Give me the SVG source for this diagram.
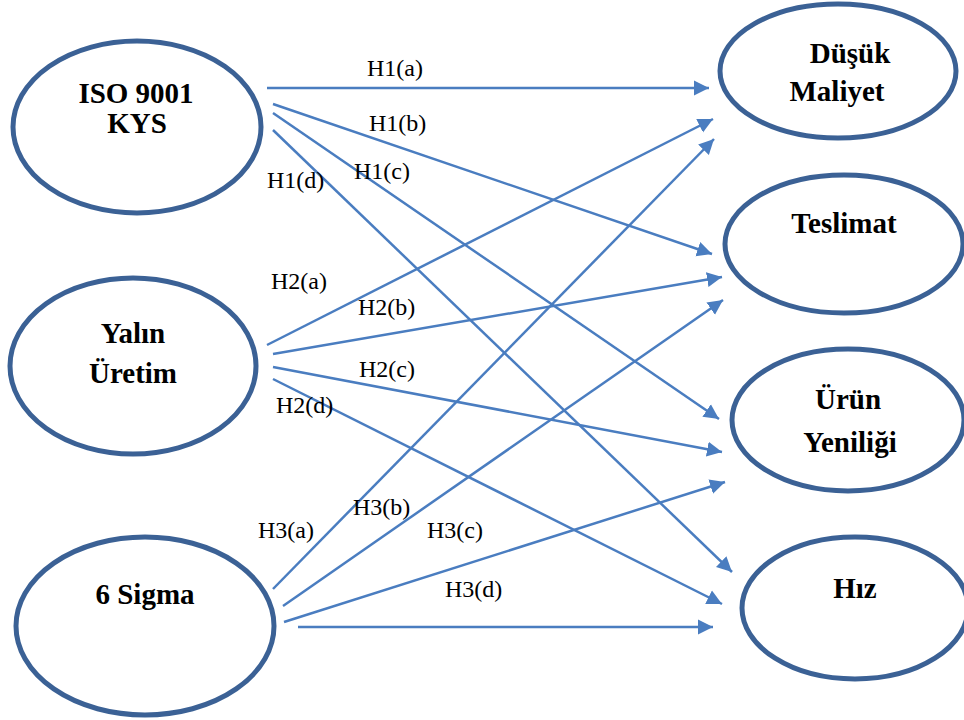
<svg xmlns="http://www.w3.org/2000/svg" width="964" height="720" viewBox="0 0 964 720">
  <style>
    .node { fill: #ffffff; stroke: #3b6195; stroke-width: 5; }
    .nlabel { font-weight: bold; font-size: 29px; fill: #000000; text-anchor: middle; }
    .edge { stroke: #4a7dc0; stroke-width: 2.5; fill: none; marker-end: url(#arrow); }
    .elabel { font-size: 24px; fill: #000000; }
  </style>
  <defs>
    <marker id="arrow" markerUnits="userSpaceOnUse" markerWidth="16" markerHeight="16" viewBox="0 0 16 16" refX="15" refY="8" orient="auto">
      <path d="M0,0.5 L15,8 L0,15.5 Z" fill="#4a7dc0"/>
    </marker>
  </defs>
  <rect width="964" height="720" fill="#ffffff"/>

  <g font-family="'Liberation Serif', 'Times New Roman', serif">
    <!-- source constructs -->
    <g id="iso9001">
      <ellipse class="node" cx="137" cy="127" rx="124" ry="86"/>
      <text class="nlabel" x="136" y="103">ISO 9001</text>
      <text class="nlabel" x="137" y="133">KYS</text>
    </g>
    <g id="yalin">
      <ellipse class="node" cx="133" cy="366" rx="123" ry="88"/>
      <text class="nlabel" x="133" y="343">Yalın</text>
      <text class="nlabel" x="133" y="383">Üretim</text>
    </g>
    <g id="sigma">
      <ellipse class="node" cx="145" cy="626" rx="129" ry="89"/>
      <text class="nlabel" x="145" y="604">6 Sigma</text>
    </g>

    <!-- outcome constructs -->
    <g id="maliyet">
      <ellipse class="node" cx="838" cy="71" rx="118" ry="67"/>
      <text class="nlabel" x="850" y="63">Düşük</text>
      <text class="nlabel" x="837" y="101">Maliyet</text>
    </g>
    <g id="teslimat">
      <ellipse class="node" cx="844" cy="244" rx="119" ry="69"/>
      <text class="nlabel" x="844" y="233">Teslimat</text>
    </g>
    <g id="yenilik">
      <ellipse class="node" cx="848" cy="420" rx="116" ry="71"/>
      <text class="nlabel" x="848" y="409">Ürün</text>
      <text class="nlabel" x="850" y="452">Yeniliği</text>
    </g>
    <g id="hiz">
      <ellipse class="node" cx="855" cy="608" rx="113" ry="71"/>
      <text class="nlabel" x="855" y="598">Hız</text>
    </g>

    <!-- hypothesis paths -->
    <g id="connectors">
      <line class="edge" x1="267" y1="88" x2="709" y2="88"/>
      <line class="edge" x1="273" y1="104" x2="712" y2="254"/>
      <line class="edge" x1="273" y1="113" x2="719" y2="419"/>
      <line class="edge" x1="273" y1="130" x2="732" y2="572"/>

      <line class="edge" x1="267" y1="345" x2="713" y2="119"/>
      <line class="edge" x1="273" y1="354" x2="722" y2="277"/>
      <line class="edge" x1="273" y1="367" x2="722" y2="452"/>
      <line class="edge" x1="273" y1="379" x2="722" y2="604"/>

      <line class="edge" x1="273" y1="589" x2="714" y2="139"/>
      <line class="edge" x1="283" y1="606" x2="723" y2="300"/>
      <line class="edge" x1="284" y1="622" x2="725" y2="482"/>
      <line class="edge" x1="298" y1="627" x2="713" y2="627"/>
    </g>

    <!-- path labels -->
    <g id="labels">
      <text class="elabel" x="367" y="76">H1(a)</text>
      <text class="elabel" x="369" y="131">H1(b)</text>
      <text class="elabel" x="354" y="179">H1(c)</text>
      <text class="elabel" x="267" y="188">H1(d)</text>
      <text class="elabel" x="271" y="289">H2(a)</text>
      <text class="elabel" x="358" y="315">H2(b)</text>
      <text class="elabel" x="359" y="377">H2(c)</text>
      <text class="elabel" x="276" y="413">H2(d)</text>
      <text class="elabel" x="258" y="538">H3(a)</text>
      <text class="elabel" x="353" y="515">H3(b)</text>
      <text class="elabel" x="427" y="538">H3(c)</text>
      <text class="elabel" x="445" y="597">H3(d)</text>
    </g>
  </g>
</svg>
